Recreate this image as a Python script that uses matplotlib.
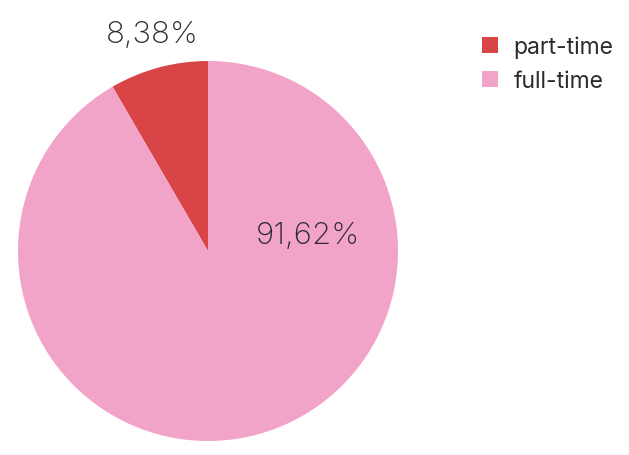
import matplotlib.pyplot as plt
from matplotlib.patches import Patch

plt.rcParams['font.family'] = ['Inter', 'DejaVu Sans']

categories = ['part-time', 'full-time']
shares = [8.38, 91.62]
colors = ['#d94547', '#f2a3c8']
text_color = '#2b2b2b'

fig = plt.figure(figsize=(6.29, 4.56), dpi=100)
ax = fig.add_axes([18 / 629, 14 / 456, 380 / 629, 380 / 456])

wedges, _ = ax.pie(shares, colors=colors, startangle=90, counterclock=True,
                   radius=1.0, wedgeprops=dict(linewidth=0))
ax.set_xlim(-1, 1)
ax.set_ylim(-1, 1)
ax.set_aspect('equal')

def fmt(v):
    return f"{v:.2f}%".replace('.', ',')

# small slice labelled outside, large one inside
ax.text(-0.295, 1.14, fmt(shares[0]), ha='center', va='center',
        fontsize=22.5, color=text_color, fontweight='light')
ax.text(0.525, 0.085, fmt(shares[1]), ha='center', va='center',
        fontsize=22.5, color=text_color, fontweight='light')

handles = [Patch(facecolor=c, edgecolor='none') for c in colors]
fig.legend(handles, categories, loc='upper left', bbox_to_anchor=(461 / 629, 1 - 16 / 456),
           frameon=False, fontsize=16.5, handlelength=0.7, handleheight=0.7,
           handletextpad=0.7, labelspacing=0.5, labelcolor=text_color)

fig.savefig('out.png', dpi=100)
